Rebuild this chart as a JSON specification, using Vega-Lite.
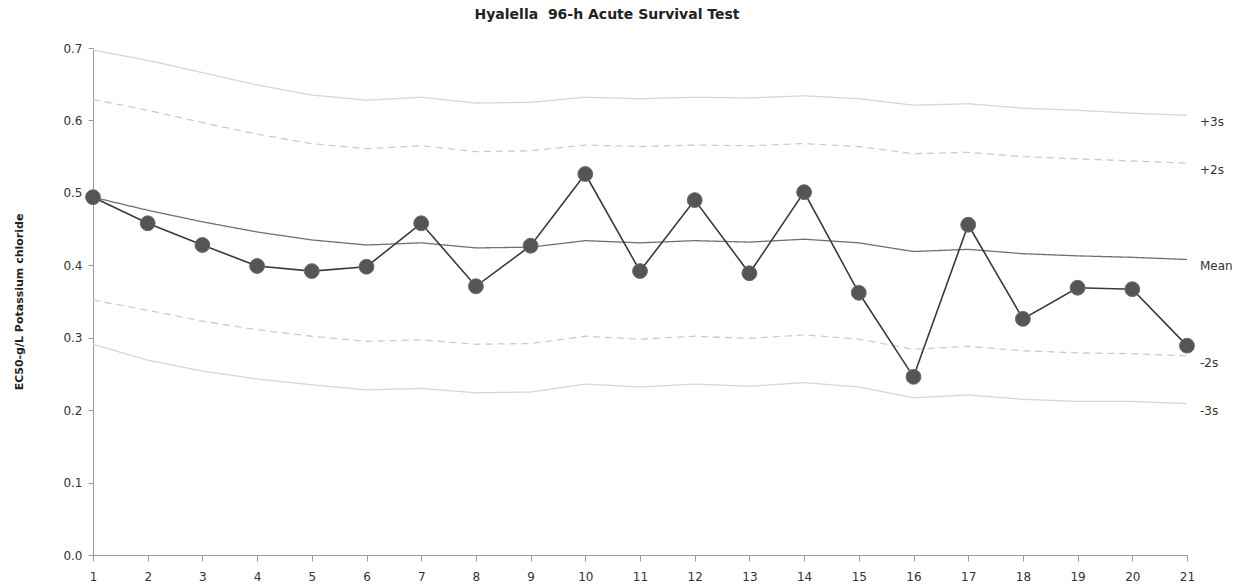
{
  "$schema": "https://vega.github.io/schema/vega-lite/v6.json",
  "width": 1094,
  "height": 507,
  "autosize": {"type": "none"},
  "padding": {"left": 93, "top": 48, "right": 48, "bottom": 31},
  "background": "white",
  "config": {
    "view": {"stroke": null},
    "font": "DejaVu Sans",
    "axis": {"grid": false, "domainColor": "#9a9a9a", "tickColor": "#9a9a9a", "labelColor": "#333333", "labelFont": "DejaVu Sans", "labelFontSize": 12, "titleFont": "DejaVu Sans"}
  },
  "title": {
    "text": "Hyalella\u00a0 96-h Acute Survival Test",
    "font": "DejaVu Sans",
    "fontSize": 14,
    "fontWeight": "bold",
    "color": "#222222",
    "anchor": "middle",
    "dx": -33,
    "offset": 20
  },
  "datasets": {
    "limits": [
      {"x": 1, "series": "+3s", "value": 0.697}, {"x": 1, "series": "+2s", "value": 0.629}, {"x": 1, "series": "Mean", "value": 0.494}, {"x": 1, "series": "-2s", "value": 0.352}, {"x": 1, "series": "-3s", "value": 0.291},
      {"x": 2, "series": "+3s", "value": 0.683}, {"x": 2, "series": "+2s", "value": 0.614}, {"x": 2, "series": "Mean", "value": 0.476}, {"x": 2, "series": "-2s", "value": 0.338}, {"x": 2, "series": "-3s", "value": 0.269},
      {"x": 3, "series": "+3s", "value": 0.666}, {"x": 3, "series": "+2s", "value": 0.597}, {"x": 3, "series": "Mean", "value": 0.460}, {"x": 3, "series": "-2s", "value": 0.323}, {"x": 3, "series": "-3s", "value": 0.254},
      {"x": 4, "series": "+3s", "value": 0.649}, {"x": 4, "series": "+2s", "value": 0.581}, {"x": 4, "series": "Mean", "value": 0.446}, {"x": 4, "series": "-2s", "value": 0.311}, {"x": 4, "series": "-3s", "value": 0.243},
      {"x": 5, "series": "+3s", "value": 0.635}, {"x": 5, "series": "+2s", "value": 0.568}, {"x": 5, "series": "Mean", "value": 0.435}, {"x": 5, "series": "-2s", "value": 0.302}, {"x": 5, "series": "-3s", "value": 0.235},
      {"x": 6, "series": "+3s", "value": 0.628}, {"x": 6, "series": "+2s", "value": 0.561}, {"x": 6, "series": "Mean", "value": 0.428}, {"x": 6, "series": "-2s", "value": 0.295}, {"x": 6, "series": "-3s", "value": 0.228},
      {"x": 7, "series": "+3s", "value": 0.632}, {"x": 7, "series": "+2s", "value": 0.565}, {"x": 7, "series": "Mean", "value": 0.431}, {"x": 7, "series": "-2s", "value": 0.297}, {"x": 7, "series": "-3s", "value": 0.230},
      {"x": 8, "series": "+3s", "value": 0.624}, {"x": 8, "series": "+2s", "value": 0.557}, {"x": 8, "series": "Mean", "value": 0.424}, {"x": 8, "series": "-2s", "value": 0.291}, {"x": 8, "series": "-3s", "value": 0.224},
      {"x": 9, "series": "+3s", "value": 0.625}, {"x": 9, "series": "+2s", "value": 0.558}, {"x": 9, "series": "Mean", "value": 0.425}, {"x": 9, "series": "-2s", "value": 0.292}, {"x": 9, "series": "-3s", "value": 0.225},
      {"x": 10, "series": "+3s", "value": 0.632}, {"x": 10, "series": "+2s", "value": 0.566}, {"x": 10, "series": "Mean", "value": 0.434}, {"x": 10, "series": "-2s", "value": 0.302}, {"x": 10, "series": "-3s", "value": 0.236},
      {"x": 11, "series": "+3s", "value": 0.630}, {"x": 11, "series": "+2s", "value": 0.564}, {"x": 11, "series": "Mean", "value": 0.431}, {"x": 11, "series": "-2s", "value": 0.298}, {"x": 11, "series": "-3s", "value": 0.232},
      {"x": 12, "series": "+3s", "value": 0.632}, {"x": 12, "series": "+2s", "value": 0.566}, {"x": 12, "series": "Mean", "value": 0.434}, {"x": 12, "series": "-2s", "value": 0.302}, {"x": 12, "series": "-3s", "value": 0.236},
      {"x": 13, "series": "+3s", "value": 0.631}, {"x": 13, "series": "+2s", "value": 0.565}, {"x": 13, "series": "Mean", "value": 0.432}, {"x": 13, "series": "-2s", "value": 0.299}, {"x": 13, "series": "-3s", "value": 0.233},
      {"x": 14, "series": "+3s", "value": 0.634}, {"x": 14, "series": "+2s", "value": 0.568}, {"x": 14, "series": "Mean", "value": 0.436}, {"x": 14, "series": "-2s", "value": 0.304}, {"x": 14, "series": "-3s", "value": 0.238},
      {"x": 15, "series": "+3s", "value": 0.630}, {"x": 15, "series": "+2s", "value": 0.564}, {"x": 15, "series": "Mean", "value": 0.431}, {"x": 15, "series": "-2s", "value": 0.298}, {"x": 15, "series": "-3s", "value": 0.232},
      {"x": 16, "series": "+3s", "value": 0.621}, {"x": 16, "series": "+2s", "value": 0.554}, {"x": 16, "series": "Mean", "value": 0.419}, {"x": 16, "series": "-2s", "value": 0.284}, {"x": 16, "series": "-3s", "value": 0.217},
      {"x": 17, "series": "+3s", "value": 0.623}, {"x": 17, "series": "+2s", "value": 0.556}, {"x": 17, "series": "Mean", "value": 0.422}, {"x": 17, "series": "-2s", "value": 0.288}, {"x": 17, "series": "-3s", "value": 0.221},
      {"x": 18, "series": "+3s", "value": 0.617}, {"x": 18, "series": "+2s", "value": 0.550}, {"x": 18, "series": "Mean", "value": 0.416}, {"x": 18, "series": "-2s", "value": 0.282}, {"x": 18, "series": "-3s", "value": 0.215},
      {"x": 19, "series": "+3s", "value": 0.614}, {"x": 19, "series": "+2s", "value": 0.547}, {"x": 19, "series": "Mean", "value": 0.413}, {"x": 19, "series": "-2s", "value": 0.279}, {"x": 19, "series": "-3s", "value": 0.212},
      {"x": 20, "series": "+3s", "value": 0.610}, {"x": 20, "series": "+2s", "value": 0.544}, {"x": 20, "series": "Mean", "value": 0.411}, {"x": 20, "series": "-2s", "value": 0.278}, {"x": 20, "series": "-3s", "value": 0.212},
      {"x": 21, "series": "+3s", "value": 0.607}, {"x": 21, "series": "+2s", "value": 0.541}, {"x": 21, "series": "Mean", "value": 0.408}, {"x": 21, "series": "-2s", "value": 0.275}, {"x": 21, "series": "-3s", "value": 0.209}
    ],
    "obs": [
      {"x": 1, "value": 0.494}, {"x": 2, "value": 0.458}, {"x": 3, "value": 0.428}, {"x": 4, "value": 0.399}, {"x": 5, "value": 0.392},
      {"x": 6, "value": 0.398}, {"x": 7, "value": 0.458}, {"x": 8, "value": 0.371}, {"x": 9, "value": 0.427}, {"x": 10, "value": 0.526},
      {"x": 11, "value": 0.392}, {"x": 12, "value": 0.490}, {"x": 13, "value": 0.389}, {"x": 14, "value": 0.501}, {"x": 15, "value": 0.362},
      {"x": 16, "value": 0.246}, {"x": 17, "value": 0.456}, {"x": 18, "value": 0.326}, {"x": 19, "value": 0.369}, {"x": 20, "value": 0.367},
      {"x": 21, "value": 0.289}
    ],
    "labels": [
      {"x": 21, "label": "+3s", "value": 0.607},
      {"x": 21, "label": "+2s", "value": 0.541},
      {"x": 21, "label": "Mean", "value": 0.408},
      {"x": 21, "label": "-2s", "value": 0.275},
      {"x": 21, "label": "-3s", "value": 0.209}
    ]
  },
  "encoding": {
    "x": {
      "field": "x", "type": "quantitative",
      "scale": {"domain": [1, 21], "nice": false, "zero": false},
      "axis": {"values": [1,2,3,4,5,6,7,8,9,10,11,12,13,14,15,16,17,18,19,20,21], "title": null, "tickSize": 6, "labelPadding": 10, "labelFlush": false, "labelOverlap": false}
    },
    "y": {
      "field": "value", "type": "quantitative",
      "scale": {"domain": [0, 0.7], "nice": false},
      "axis": {"values": [0, 0.1, 0.2, 0.3, 0.4, 0.5, 0.6, 0.7], "format": ".1f", "title": "EC50-g/L Potassium chloride", "titleFontSize": 11, "titleFontWeight": "bold", "titleColor": "#222222", "titlePadding": 38, "tickSize": 5, "labelPadding": 6}
    }
  },
  "layer": [
    {
      "data": {"name": "limits"},
      "mark": {"type": "line", "strokeWidth": 1.3},
      "encoding": {
        "detail": {"field": "series"},
        "color": {"field": "series", "type": "nominal", "legend": null,
          "scale": {"domain": ["+3s", "+2s", "Mean", "-2s", "-3s"], "range": ["#d6d6d6", "#cccccc", "#707070", "#cccccc", "#d6d6d6"]}},
        "strokeDash": {"field": "series", "type": "nominal", "legend": null,
          "scale": {"domain": ["+3s", "+2s", "Mean", "-2s", "-3s"], "range": [[1, 0], [7, 5], [1, 0], [7, 5], [1, 0]]}}
      }
    },
    {
      "data": {"name": "obs"},
      "mark": {"type": "line", "color": "#3a3a3a", "strokeWidth": 1.6},
      "encoding": {}
    },
    {
      "data": {"name": "obs"},
      "mark": {"type": "circle", "size": 220, "color": "#555555", "opacity": 1, "stroke": "#6a6a6a", "strokeWidth": 1}
    },
    {
      "data": {"name": "labels"},
      "mark": {"type": "text", "align": "left", "baseline": "middle", "dx": 13, "dy": 7, "fontSize": 12, "font": "DejaVu Sans", "color": "#333333"},
      "encoding": {"text": {"field": "label"}}
    }
  ]
}
